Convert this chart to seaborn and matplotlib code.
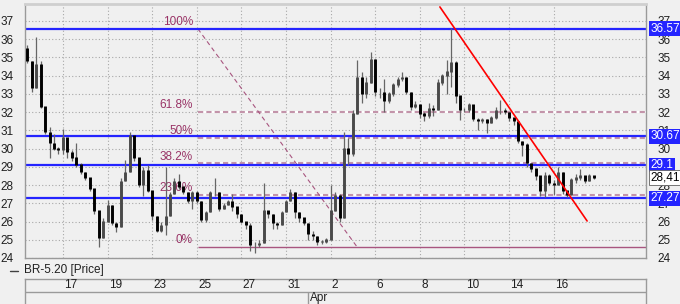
import matplotlib
matplotlib.use("Agg")
import matplotlib.pyplot as plt
import matplotlib.transforms as mtrans
from matplotlib.lines import Line2D
import numpy as np
import pandas as pd
import seaborn as sns

# ---------------- data ----------------
first_open = 35.5
close = [34.8, 33.3, 34.6, 32.3, 30.9, 30.3, 30.0, 29.9, 30.6, 29.8,
         29.5, 29.1, 28.7, 28.4, 27.8, 26.6, 25.1, 26.0, 26.9, 25.9,
         25.7, 28.2, 28.7, 30.7, 29.5, 28.0, 28.8, 27.7, 26.3, 25.5,
         25.8, 26.3, 27.5, 28.2, 27.9, 27.6, 27.1, 27.6, 27.1, 26.1,
         26.5, 27.6, 27.6, 26.7, 26.9, 27.1, 26.8, 26.4, 26.0, 25.8,
         24.7, 24.7, 24.8, 26.6, 26.4, 25.9, 25.8, 26.5, 27.1, 27.6,
         26.5, 26.2, 25.9, 25.3, 25.2, 24.9, 24.9, 25.0, 26.6, 27.4,
         26.2, 30.0, 29.7, 31.9, 33.9, 33.0, 33.6, 34.9, 33.1, 33.1,
         32.6, 33.0, 33.5, 33.8, 33.9, 33.1, 32.3, 32.4, 31.9, 31.8,
         32.2, 32.1, 33.6, 34.0, 34.2, 34.7, 32.9, 32.1, 32.1, 32.4,
         31.6, 31.5, 31.6, 31.4, 31.7, 32.1, 32.1, 32.0, 31.7, 31.5,
         30.4, 30.2, 29.2, 28.9, 28.5, 27.7, 28.5, 28.1, 28.0, 28.7,
         27.7, 27.45, 28.3, 28.4, 28.5, 28.2, 28.5, 28.41]
high = [35.7, 34.8, 36.1, 34.8, 32.3, 31.2, 30.8, 30.1, 31.1, 30.6,
        29.9, 30.3, 29.2, 28.7, 28.4, 27.8, 26.6, 26.2, 27.2, 26.9,
        26.0, 28.4, 29.4, 30.9, 30.7, 29.5, 29.0, 29.1, 27.7, 26.3,
        26.0, 29.0, 27.6, 28.4, 28.6, 27.9, 27.6, 27.7, 27.7, 27.1,
        26.6, 27.7, 28.4, 27.6, 27.0, 27.2, 27.5, 26.8, 26.4, 26.0,
        25.9, 24.9, 25.0, 28.1, 26.6, 26.4, 26.0, 26.6, 27.2, 27.8,
        27.6, 26.5, 26.2, 25.9, 25.5, 25.2, 25.0, 25.1, 28.0, 27.6,
        27.5, 30.9, 30.6, 32.1, 34.85, 34.2, 33.9, 35.3, 34.9, 33.3,
        33.8, 33.1, 33.6, 33.9, 34.2, 33.9, 33.1, 32.6, 32.4, 32.0,
        32.5, 32.4, 33.8, 34.1, 34.85, 36.6, 34.8, 32.9, 32.2, 32.5,
        32.4, 31.7, 31.7, 31.6, 31.8, 32.3, 32.65, 32.2, 32.0, 31.7,
        31.5, 30.4, 30.3, 29.2, 28.9, 28.5, 28.7, 28.6, 28.3, 29.0,
        28.7, 27.7, 28.4, 28.6, 28.9, 28.5, 28.6, 28.5]
low = [34.7, 33.1, 33.3, 32.2, 30.8, 29.5, 29.9, 29.7, 29.7, 29.5,
       29.3, 29.0, 28.6, 28.3, 27.7, 26.4, 24.6, 25.1, 26.0, 25.8,
       25.4, 25.7, 28.2, 28.7, 29.3, 27.9, 27.4, 27.6, 26.1, 25.4,
       25.4, 25.25, 26.3, 27.5, 27.8, 27.5, 27.0, 26.7, 27.0, 25.95,
       26.0, 26.5, 27.4, 26.6, 26.7, 26.9, 26.6, 26.2, 25.9, 25.6,
       24.4, 24.3, 24.6, 24.8, 26.2, 25.6, 25.6, 25.8, 26.5, 27.1,
       26.2, 26.0, 25.8, 25.0, 25.0, 24.7, 24.75, 24.8, 25.0, 26.6,
       26.0, 26.2, 29.1, 29.6, 31.9, 32.5, 32.8, 33.6, 32.9, 32.8,
       32.0, 32.5, 32.9, 33.4, 33.7, 33.0, 32.1, 32.2, 31.7, 31.5,
       31.7, 31.8, 32.1, 33.5, 33.0, 33.4, 32.5, 31.55, 32.0, 32.0,
       31.5, 31.0, 31.4, 30.85, 31.4, 31.6, 31.9, 31.9, 31.5, 31.3,
       30.3, 29.6, 29.0, 28.7, 28.3, 27.4, 27.35, 28.0, 27.45, 28.0,
       27.5, 27.35, 27.45, 28.1, 28.3, 28.1, 28.2, 28.35]

day_labels = ["17", "19", "23", "25", "27", "31", "2", "6", "8", "10", "14", "16"]
month_labels = ["Apr"]
month_start_days = [11]

level_values = [36.57, 30.67, 29.1, 27.27]
level_labels = ["36.57", "30.67", "29.1", "27.27"]
last_price = 28.41
last_label = "28,41"

fib_high = 36.57
fib_low = 24.62
fib_ratios = [1.0, 0.618, 0.5, 0.382, 0.236, 0.0]
fib_labels = ["100%", "61.8%", "50%", "38.2%", "23.6%", "0%"]
fib_days = [6.05, 13.18]

trend_days = [16.9, 23.5]
trend_prices = [37.77, 26.03]

series_name = "BR-5.20 [Price]"

# ---------------- layout ----------------
W, H = 680, 304
BG = "#f0f0f0"
sns.set_theme(style="white")
plt.rcParams['font.family'] = ['Liberation Sans', 'DejaVu Sans']
FS = 8.5

fig = plt.figure(figsize=(W / 100, H / 100), dpi=100, facecolor=BG)
L, R, T, B = 25, 646, 4, 258
ax = fig.add_axes([L / W, 1 - B / H, (R - L) / W, (B - T) / H])
ax.set_facecolor(BG)

n = len(close)
opens = [first_open] + close[:-1]
df = pd.DataFrame({"x": -1.6 + 0.2 * np.arange(n), "open": opens,
                   "high": high, "low": low, "close": close})
df["up"] = df["close"] >= df["open"]

ax.set_xlim(-1.70, 26.14)
ax.set_ylim(24, 37.93)
ax.set_yticks(range(24, 38))
ax.set_xticks(range(0, 24, 2))
ax.grid(True, color="#a8a8a8", ls=(0, (1, 2)), lw=0.8)
ax.tick_params(axis="x", labelbottom=False, length=0)
ax.tick_params(axis="y", labelleft=True, labelright=True, left=False,
               right=False, labelsize=FS, pad=2, colors="#202020")
for side in ["left", "right", "bottom"]:
    ax.spines[side].set_color("#9a9a9a")
    ax.spines[side].set_linewidth(1)
ax.spines["top"].set_color("#cfcfcf")
ax.spines["top"].set_linewidth(2)

# fibonacci levels
fib_col = "#993366"
for r, lab in zip(fib_ratios, fib_labels):
    lv = fib_low + r * (fib_high - fib_low)
    if r == 0.0:
        ax.hlines(lv, fib_days[0], 26.14, color="#a8557f", lw=1.0, zorder=1.5)
    else:
        ax.hlines(lv, fib_days[0], 26.14, color="white", lw=1.5, zorder=1.5)
        ax.hlines(lv, fib_days[0], 26.14, color="#c394aa", lw=1.5,
                  ls=(0, (2.5, 1.5)), zorder=1.6)
    ax.text(5.83, lv + 0.05, lab, ha="right", va="bottom", color=fib_col,
            fontsize=FS, zorder=1.7)
sns.lineplot(x=fib_days, y=[fib_high, fib_low], ax=ax, color="#a8557f",
             lw=0.8, ls=(0, (4, 3)), zorder=1.8)

# key levels
for lv in level_values:
    ax.axhline(lv, color="#2424ff", lw=1.6, zorder=2)

# candles
ax.vlines(df["x"], df["low"], df["high"], color="#666666", lw=0.9, zorder=3)
bot = df[["open", "close"]].min(axis=1)
top = df[["open", "close"]].max(axis=1) + 0.03
cols = np.where(df["up"], "#4a4a4a", "#000000")
ax.vlines(df["x"], bot, top, color=cols, lw=2.1, zorder=3.2)

# trend line
sns.lineplot(x=trend_days, y=trend_prices, ax=ax, color="red", lw=1.2,
             zorder=4)

# right-side labels
tr = mtrans.blended_transform_factory(ax.transAxes, ax.transData)
for lv, lab in zip(level_values, level_labels):
    ax.text(1.007, lv, lab, transform=tr, ha="left", va="center",
            color="white", fontsize=FS, clip_on=False, zorder=10,
            bbox=dict(boxstyle="square,pad=0.12", fc="#2424ff", ec="none"))
ax.text(1.007, last_price, last_label, transform=tr, ha="left", va="center",
        color="black", fontsize=FS, clip_on=False, zorder=10,
        bbox=dict(boxstyle="square,pad=0.12", fc="white", ec="#606060", lw=0.6))

# legend line
fig.add_artist(Line2D([10 / W, 18 / W], [1 - 270.5 / H] * 2, color="#404040", lw=1))
fig.text(24 / W, 1 - 270.5 / H, series_name, ha="left", va="center",
         fontsize=FS, color="#202020")

# date table axes
ax2 = fig.add_axes([L / W, 0, (R - L) / W, (H - 279) / H])
ax2.set_facecolor(BG)
ax2.set_xlim(ax.get_xlim())
ax2.set_ylim(0, 1)
ax2.set_xticks([])
ax2.set_yticks([])
for side in ["left", "right", "top"]:
    ax2.spines[side].set_color("#9a9a9a")
    ax2.spines[side].set_linewidth(1)
ax2.spines["bottom"].set_visible(False)
ax2.axhline(0.5, color="#9a9a9a", lw=1)
for k, lab in enumerate(day_labels):
    ax2.text(2 * k + 0.06, 0.74, lab, ha="left", va="center", fontsize=FS,
             color="#202020")
for d, lab in zip(month_start_days, month_labels):
    ax2.vlines(d, 0, 0.5, color="#9a9a9a", lw=1)
    ax2.text(d + 0.08, 0.24, lab, ha="left", va="center", fontsize=FS,
             color="#202020")

fig.savefig("out.png", dpi=100, facecolor=BG)
